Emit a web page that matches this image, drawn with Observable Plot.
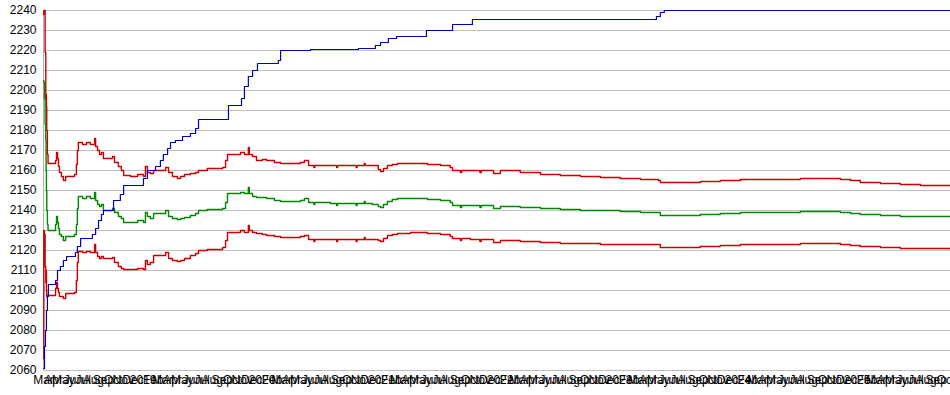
<!DOCTYPE html>
<html>
<head>
<meta charset="utf-8">
<script src="https://cdn.jsdelivr.net/npm/d3@7"></script>
<script src="https://cdn.jsdelivr.net/npm/@observablehq/plot@0.6"></script>
<style>
  html, body { margin: 0; padding: 0; background: #fff; }
  #chart svg { display: block; overflow: visible; }
</style>
</head>
<body>
<div id="chart"></div>
<script>
// Start of the series; x values below are days elapsed since this date
const START = "2018-03-01";
const END_DAY = 2785;

// Y tick values
const yTicks = [2060, 2070, 2080, 2090, 2100, 2110, 2120, 2130, 2140, 2150, 2160, 2170, 2180, 2190, 2200, 2210, 2220, 2230, 2240];

// Band series (upper red, middle green, lower red), change points
const bandDays = [0, 1, 3, 5, 7, 8, 9, 10, 12, 14, 37, 40, 43, 46, 49, 55, 61, 68, 83, 95, 101, 104, 107, 120, 132, 144, 157, 160, 166, 172, 178, 184, 200, 212, 218, 230, 239, 246, 267, 289, 307, 313, 319, 328, 338, 359, 375, 384, 396, 411, 421, 433, 451, 467, 476, 503, 528, 550, 559, 565, 586, 605, 617, 629, 632, 642, 654, 672, 685, 709, 728, 758, 789, 801, 814, 830, 833, 881, 900, 903, 942, 960, 963, 985, 988, 1010, 1028, 1035, 1044, 1056, 1071, 1087, 1127, 1179, 1219, 1249, 1256, 1280, 1284, 1311, 1340, 1344, 1382, 1403, 1464, 1526, 1587, 1649, 1710, 1771, 1833, 1888, 1894, 1956, 2017, 2078, 2140, 2201, 2263, 2324, 2385, 2447, 2478, 2508, 2570, 2631, 2693, 2785];
const upper = [2238, 2240, 2240, 2219, 2195, 2198, 2192, 2180, 2168, 2163.5, 2165, 2169, 2166, 2162, 2159, 2157, 2155, 2157, 2157, 2158, 2163, 2170, 2174, 2173, 2174, 2173, 2176, 2172, 2170, 2168, 2169, 2166, 2166, 2167, 2164, 2162, 2160, 2157.5, 2157, 2158, 2157, 2162, 2159, 2158.5, 2160, 2160, 2161.5, 2159, 2157, 2156, 2157, 2158, 2158.5, 2159, 2160, 2161, 2161, 2161.5, 2165, 2168, 2168, 2169, 2168, 2171.5, 2168, 2167, 2165, 2165.5, 2165, 2164, 2163.5, 2163.5, 2164, 2165, 2162.5, 2161.5, 2162.5, 2162.5, 2161.5, 2162.5, 2162.5, 2161.5, 2162.5, 2163.5, 2162.5, 2162.5, 2160.5, 2159.5, 2161, 2162.5, 2163, 2163.5, 2163.5, 2163, 2162.5, 2161.5, 2160, 2159, 2160, 2160, 2159, 2160, 2158.5, 2160, 2159, 2158, 2157.5, 2157, 2156.5, 2156, 2155.5, 2155, 2154, 2154, 2154.5, 2155, 2155.5, 2155.5, 2155.5, 2156, 2156, 2155.5, 2155, 2154, 2153.5, 2153, 2152.5, 2152.5];
const middle = [2205, 2204, 2196, 2183, 2175, 2160, 2150, 2140, 2133, 2130, 2133, 2137, 2134, 2131, 2128, 2127, 2125, 2127, 2127, 2128, 2133, 2141, 2147, 2146, 2147, 2146, 2149, 2145, 2143, 2142, 2143, 2140, 2140, 2141, 2139, 2137, 2136, 2134, 2134, 2135, 2134, 2139, 2137, 2136, 2138.5, 2138.5, 2140, 2137, 2136, 2135.5, 2136, 2136.5, 2137.5, 2138.5, 2140, 2140.5, 2140.5, 2141, 2144, 2148.5, 2148.5, 2149, 2148.5, 2151.5, 2148.5, 2147, 2146.5, 2146.5, 2146, 2145, 2144.5, 2144.5, 2145, 2146, 2144, 2143, 2144, 2143.5, 2142.5, 2143.5, 2143.5, 2142.5, 2143.5, 2144.5, 2143.5, 2143, 2142, 2141.5, 2143, 2144.5, 2145.5, 2146, 2146, 2145.5, 2145, 2144, 2142.5, 2141.5, 2142.5, 2142.5, 2141.5, 2142.5, 2141, 2142, 2141.5, 2141, 2140.5, 2140, 2140, 2139.5, 2139, 2139, 2137.5, 2137.5, 2138, 2138.5, 2139, 2139, 2139, 2139.5, 2139.5, 2139, 2138.5, 2138, 2137.5, 2137, 2137, 2137];
const lower = [2066, 2130, 2128, 2112, 2104, 2110, 2100, 2097, 2097, 2097.5, 2101, 2104, 2101, 2099, 2097, 2097, 2096, 2098.5, 2098.5, 2099, 2105, 2114, 2119.5, 2119, 2119.5, 2119, 2123, 2119, 2117, 2116, 2117, 2116, 2116, 2116.5, 2114, 2112, 2111, 2110.5, 2110.5, 2111, 2110.5, 2115, 2113, 2114, 2117.5, 2117.5, 2119, 2116, 2115, 2114.5, 2115, 2116, 2117.5, 2118.5, 2120, 2120.5, 2120.5, 2121.5, 2125, 2129, 2129, 2130, 2129, 2132.5, 2130, 2129, 2128.5, 2128, 2127.5, 2127, 2126.5, 2126.5, 2127, 2127.5, 2125.5, 2124.5, 2125.5, 2125.5, 2124.5, 2125.5, 2125.5, 2124.5, 2125.5, 2126.5, 2125.5, 2125.5, 2125, 2124.5, 2126, 2127.5, 2128, 2128.5, 2129, 2128.5, 2128, 2127, 2126, 2125, 2126, 2125.5, 2124.5, 2125.5, 2124, 2125, 2124.5, 2124, 2123.5, 2123.5, 2123, 2123, 2123, 2123, 2121.5, 2121.5, 2122, 2122.5, 2123, 2123, 2123, 2123.5, 2123.5, 2123, 2122.5, 2122, 2121.5, 2121, 2121, 2120.5];

// Blue series (running peak), change points
const peakDays = [0, 3, 6, 9, 12, 15, 37, 43, 52, 61, 71, 98, 104, 114, 150, 160, 169, 178, 184, 215, 236, 246, 307, 319, 344, 359, 368, 381, 390, 405, 427, 451, 467, 476, 568, 608, 617, 629, 642, 657, 721, 728, 820, 967, 1019, 1035, 1059, 1084, 1176, 1256, 1317, 1882, 1894, 1906, 2785];
const peak = [2061, 2072, 2080, 2090, 2097, 2103, 2105, 2110, 2112, 2115, 2117, 2119, 2122, 2126, 2128, 2131, 2135, 2138, 2140, 2145, 2148, 2152.5, 2156, 2160, 2162, 2165, 2168, 2171, 2174, 2175, 2177, 2178.5, 2181, 2185.5, 2192.5, 2196, 2202, 2207, 2210, 2213.5, 2215, 2220, 2220.5, 2221, 2222.5, 2224, 2226, 2227, 2230, 2233, 2235.5, 2237, 2239, 2240, 2240];

const start = new Date(START + "T00:00:00Z");
const toDate = d => d3.utcDay.offset(start, d);
const end = toDate(END_DAY);

const mk = (days, vals) => days.map((d, i) => ({date: toDate(d), value: vals[i]}));
const upperData = mk(bandDays, upper);
const middleData = mk(bandDays, middle);
const lowerData = mk(bandDays, lower);
const peakData = mk(peakDays, peak);

const monthTicks = d3.utcMonth.range(start, d3.utcDay.offset(end, 1));
const fmtMonth = d3.utcFormat("%b");
const fmtYear = d3.utcFormat("%Y");

const chart = Plot.plot({
  width: 950,
  height: 395,
  marginTop: 10,
  marginBottom: 25,
  marginLeft: 43,
  marginRight: 0,
  style: {fontFamily: "'Liberation Sans', Arial, sans-serif", fontSize: "12px", color: "#000", background: "#fff"},
  x: {type: "utc", domain: [start, end]},
  y: {domain: [2060, 2240]},
  marks: [
    Plot.gridY(yTicks, {stroke: "#c0c0c0", strokeOpacity: 1}),
    Plot.ruleX([start], {stroke: "#b0b0b0"}),
    Plot.axisY(yTicks, {tickSize: 0, tickPadding: 7, label: null, fontSize: 12, tickFormat: d => String(d)}),
    Plot.axisX(monthTicks, {tickSize: 0, tickPadding: 5, label: null, fontSize: 12,
      tickFormat: d => d.getUTCMonth() === 0 ? fmtYear(d) : fmtMonth(d)}),
    Plot.line(lowerData, {x: "date", y: "value", stroke: "#cc0000", strokeWidth: 1.4, curve: "step-after"}),
    Plot.line(upperData, {x: "date", y: "value", stroke: "#cc0000", strokeWidth: 1.4, curve: "step-after"}),
    Plot.line(middleData, {x: "date", y: "value", stroke: "#008800", strokeWidth: 1.4, curve: "step-after"}),
    Plot.line(peakData, {x: "date", y: "value", stroke: "#0000b4", strokeWidth: 1.2, curve: "step-after"})
  ]
});
document.getElementById("chart").appendChild(chart);
</script>
</body>
</html>
